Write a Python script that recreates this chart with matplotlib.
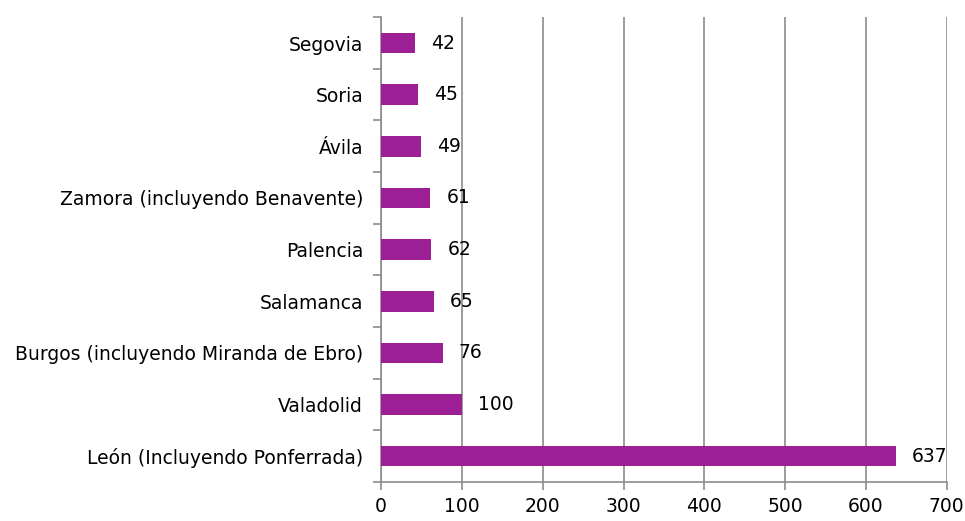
import matplotlib

matplotlib.use("Agg")
import matplotlib.pyplot as plt
import numpy as np

CITIES = ["León (Incluyendo Ponferrada)", "Valadolid", "Burgos (incluyendo Miranda de Ebro)",
          "Salamanca", "Palencia", "Zamora (incluyendo Benavente)", "Ávila", "Soria", "Segovia"]
VALUES = [637, 100, 76, 65, 62, 61, 49, 45, 42]
XTICKS = [0, 100, 200, 300, 400, 500, 600, 700]

BAR = "#9C1F96"
GRID = "#8c8c8c"
FS = 13.5

fig = plt.figure(figsize=(9.65, 5.21), dpi=100)
ax = fig.add_axes([0.395, 0.075, 0.586, 0.892])

y = np.arange(len(CITIES))
ax.barh(y, VALUES, height=0.4, color=BAR, zorder=3)
for yi, v in zip(y, VALUES):
    ax.text(v + 20, yi, f"{v}", va="center", ha="left", fontsize=FS, color="black", zorder=4)

ax.set_xlim(0, 700)
ax.set_ylim(-0.5, len(CITIES) - 0.5)
ax.set_xticks(XTICKS)
ax.set_xticklabels([str(t) for t in XTICKS], fontsize=FS)
ax.set_yticks(y)
ax.set_yticklabels(CITIES, fontsize=FS)
ax.set_yticks(np.arange(-0.5, len(CITIES)), minor=True)
ax.tick_params(axis="y", which="major", length=0, pad=13)
ax.tick_params(axis="y", which="minor", length=6, color=GRID, width=1.2)
ax.tick_params(axis="x", length=6, color=GRID, width=1.2, pad=5)

ax.grid(axis="x", color=GRID, linewidth=1.2, zorder=0)
for s in ["top", "right"]:
    ax.spines[s].set_visible(False)
for s in ["left", "bottom"]:
    ax.spines[s].set_color(GRID)
    ax.spines[s].set_linewidth(1.2)

fig.savefig("out.png", dpi=100)
